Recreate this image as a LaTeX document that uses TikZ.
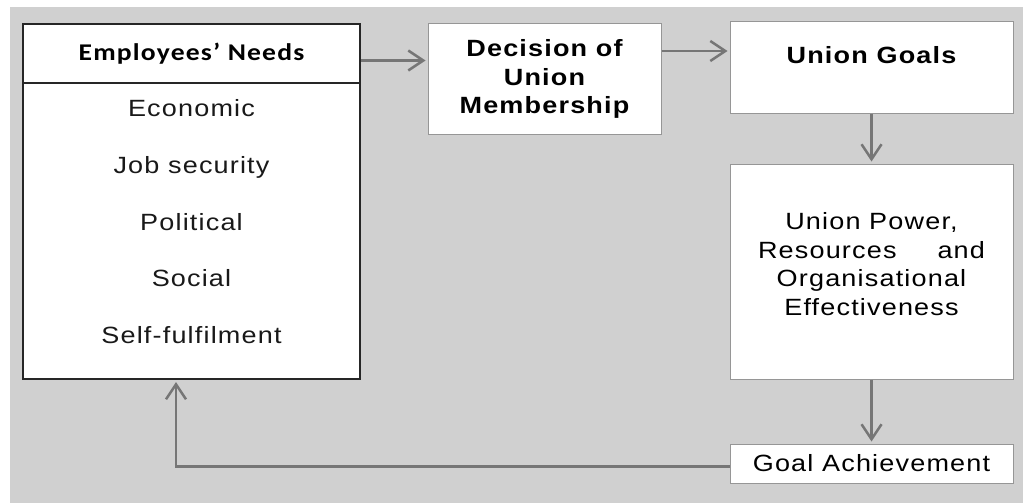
\documentclass[tikz,border=0pt]{standalone}
\usepackage{fontspec}
\setmainfont{Liberation Sans}[FakeStretch=1.15,LetterSpace=5]
\newfontfamily\headfont{Carlito}[FakeStretch=1.15,LetterSpace=5]
\usetikzlibrary{arrows.meta}
\definecolor{bggray}{RGB}{208,208,208}
\definecolor{linegray}{RGB}{118,118,118}
\definecolor{boxgray}{RGB}{150,150,150}
\newcommand{\diagfont}{\fontsize{23.5}{28.5}\selectfont}

\begin{document}
\begin{tikzpicture}[x=1pt, y=-1pt,
    needsbox/.style={rectangle, draw=black!85, line width=2pt, fill=white, minimum width=337pt, inner sep=0pt},
    plainbox/.style={rectangle, draw=boxgray, line width=1pt, fill=white, minimum width=283pt, inner sep=0pt, align=center, font=\diagfont},
    needitem/.style={anchor=base, font=\diagfont, text=black!90},
    arrow/.style={line width=2.5pt, draw=linegray, -{Straight Barb[length=15pt,width=20pt]}, shorten >=2pt}
  ]
  \useasboundingbox (0,0) rectangle (1023,503);
  \fill [bggray] (10,7) rectangle (1023,503);

  % Needs
  \node (needs) [needsbox, minimum height=355pt] at (191.5,201.5) {};
  \node (head) [needsbox, minimum height=59pt, font=\headfont\bfseries\fontsize{24}{28}\selectfont] at (191.5,53.5) {Employees’ Needs};
  \foreach \need [count=\i] in {Economic, Job security, Political, Social, Self-fulfilment}
    \node (need\i) [needitem] at (191.5,{117+56.5*(\i-1)}) {\need};

  % Union side
  \node (decision) [plainbox, minimum width=233pt, minimum height=110pt, font=\bfseries\diagfont] at (544.5,79) {Decision of\\Union\\Membership};
  \node (goals) [plainbox, minimum height=91pt] at (871.5,67.5) {};
  \node (goalstext) [font=\bfseries\diagfont] at (871.5,55) {Union Goals};
  \node (power) [plainbox, minimum height=215pt] at (871.5,271.5) {};
  \node (powertext) [align=center, font=\diagfont] at (871.5,264) {Union Power,\\ \makebox[227pt]{Resources\hfill and}\\ Organisational\\ Effectiveness};
  \node (achieve) [plainbox, minimum height=39pt] at (871.5,463.5) {Goal Achievement};

  % Arrows
  \draw [arrow] ([yshift=-7pt]head.east) -- ([yshift=-7pt]head.east -| decision.west);
  \draw [arrow] ([yshift=28pt]decision.east) -- ([yshift=28pt]decision.east -| goals.west);
  \draw [arrow] (goals) -- (power);
  \draw [arrow] (power) -- (achieve);
  \draw [arrow] ([yshift=-3pt]achieve.west) -| ([xshift=-15.5pt]needs.south);
\end{tikzpicture}
\end{document}
